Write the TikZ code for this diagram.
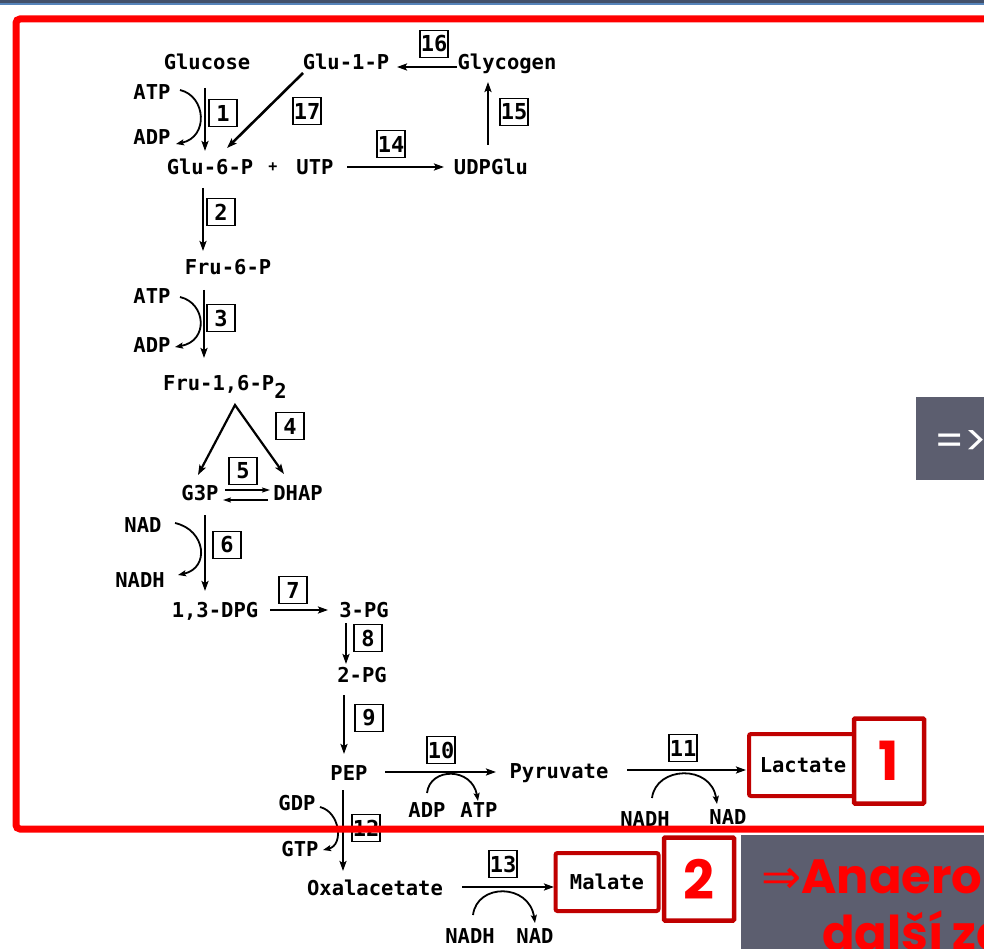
\documentclass[tikz,border=0pt]{standalone}
\usepackage{fontspec}
\usetikzlibrary{arrows.meta}
\newfontfamily\chemfont{DejaVu Sans Mono}
\newfontfamily\slidefont{Poppins}
\newfontfamily\arrowfont{DejaVu Sans}
\definecolor{framered}{RGB}{255,0,0}
\definecolor{darkred}{RGB}{192,0,0}
\definecolor{panelgrey}{RGB}{92,94,111}
\definecolor{bardark}{RGB}{66,80,106}
\definecolor{barblue}{RGB}{86,132,186}

\begin{document}
\begin{tikzpicture}[x=1pt,y=-1pt,
  lbl/.style={font=\chemfont\bfseries\fontsize{20.5}{24}\selectfont, inner sep=0pt, anchor=base},
  enz/.style={draw, line width=1.8pt, minimum width=28pt, minimum height=27pt, inner sep=0pt,
              font=\chemfont\bfseries\fontsize{22}{24}\selectfont},
  rxn/.style={line width=2pt, -{Stealth[length=10pt,width=7pt,inset=2pt]}},
  thin rxn/.style={line width=1.5pt, -{Stealth[length=8pt,width=5pt,inset=1.5pt]}},
  cof/.style={line width=1.8pt, -{Stealth[length=8pt,width=6pt,inset=1.5pt]}},
  prodbox/.style={draw=darkred, line width=4pt, rounded corners=2pt, fill=white, inner sep=0pt,
                  font=\chemfont\bfseries\fontsize{20.5}{24}\selectfont},
  numbox/.style={draw=darkred, line width=4.5pt, rounded corners=1pt, fill=white, inner sep=0pt,
                 text=framered, font=\slidefont\bfseries\fontsize{54}{60}\selectfont},
  slidetext/.style={anchor=base west, inner sep=0pt, text=framered,
                    font=\slidefont\bfseries\fontsize{48}{56}\selectfont},
]
\useasboundingbox (0,0) rectangle (984,949);
\clip (0,0) rectangle (984,949);
\fill[white] (0,0) rectangle (984,949);

% slide header bars
\fill[bardark] (0,0) rectangle (984,3);
\fill[barblue] (0,3) rectangle (984,5.5);

% ---------- metabolite and cofactor labels ----------
\node[lbl] (glucose)  at (207,70) {Glucose};
\node[lbl] (glu1p)    at (346,70) {Glu-1-P};
\node[lbl] (glycogen) at (507,70) {Glycogen};
\node[lbl] (atp1)     at (152,100) {ATP};
\node[lbl] (adp1)     at (152,145) {ADP};
\node[lbl] (glu6p)    at (210,175) {Glu-6-P};
\node[font=\chemfont\bfseries\fontsize{15}{16}\selectfont, inner sep=0pt] (plus) at (273,167) {+};
\node[lbl] (utp)      at (315,175) {UTP};
\node[lbl] (udpglu)   at (491,175) {UDPGlu};
\node[lbl] (fru6p)    at (228,275) {Fru-6-P};
\node[lbl] (atp3)     at (152,303) {ATP};
\node[lbl] (adp3)     at (152,352) {ADP};
\node[lbl, anchor=base west] (fbp) at (163,390) {Fru-1,6-P\raisebox{-8pt}{2}};
\node[lbl] (g3p)      at (200,500) {G3P};
\node[lbl] (dhap)     at (298,500) {DHAP};
\node[lbl] (nad6)     at (143,532) {NAD};
\node[lbl] (nadh6)    at (140,587) {NADH};
\node[lbl] (dpg)      at (215,617) {1,3-DPG};
\node[lbl] (pg3)      at (364,617) {3-PG};
\node[lbl] (pg2)      at (362,682) {2-PG};
\node[lbl] (pep)      at (349,780) {PEP};
\node[lbl] (adp10)    at (427,817) {ADP};
\node[lbl] (atp10)    at (479,817) {ATP};
\node[lbl] (pyruvate) at (559,778) {Pyruvate};
\node[lbl] (nadh11)   at (645,826) {NADH};
\node[lbl] (nad11)    at (728,824) {NAD};
\node[lbl] (gdp)      at (297,810) {GDP};
\node[lbl] (gtp)      at (300,856) {GTP};
\node[lbl] (oaa)      at (375,895) {Oxalacetate};
\node[lbl] (nadh13)   at (470,943) {NADH};
\node[lbl] (nad13)    at (535,943) {NAD};

% ---------- enzyme numbers ----------
\node[enz] (e16) at (434,44)  {16};
\node[enz] (e17) at (307,111) {17};
\node[enz] (e1)  at (223,113) {1};
\node[enz] (e14) at (391,144) {14};
\node[enz] (e15) at (514,112) {15};
\node[enz] (e2)  at (221,212) {2};
\node[enz] (e3)  at (221,318) {3};
\node[enz] (e4)  at (290,426) {4};
\node[enz] (e5)  at (243,471) {5};
\node[enz] (e6)  at (227,545) {6};
\node[enz] (e7)  at (293,590) {7};
\node[enz] (e8)  at (368,638) {8};
\node[enz] (e9)  at (369,718) {9};
\node[enz] (e10) at (441,750) {10};
\node[enz] (e11) at (683,748) {11};
\node[enz] (e12) at (366,828) {12};
\node[enz] (e13) at (503,864) {13};

% ---------- arrow end points ----------
\coordinate (r16s) at (457,67);  \coordinate (r16e) at (397,67);
\coordinate (r17s) at (303,73);  \coordinate (r17e) at (227,148);
\coordinate (r1s)  at (205,88);  \coordinate (r1e)  at (205,151);
\coordinate (r14s) at (347,167); \coordinate (r14e) at (444,167);
\coordinate (r15s) at (488,145); \coordinate (r15e) at (488,82);
\coordinate (r2s)  at (203,188); \coordinate (r2e)  at (203,251);
\coordinate (r3s)  at (204,290); \coordinate (r3e)  at (204,358);
\coordinate (apex) at (235,405);
\coordinate (r4l)  at (198,475); \coordinate (r4r)  at (284,474);
\coordinate (r5fs) at (225,490); \coordinate (r5fe) at (270,490);
\coordinate (r5bs) at (268,500); \coordinate (r5be) at (223,500);
\coordinate (r6s)  at (205,515); \coordinate (r6e)  at (205,591);
\coordinate (r7s)  at (270,610); \coordinate (r7e)  at (328,610);
\coordinate (r8s)  at (346,623); \coordinate (r8e)  at (346,664);
\coordinate (r9s)  at (344,695); \coordinate (r9e)  at (344,754);
\coordinate (r10s) at (385,772); \coordinate (r10e) at (496,772);
\coordinate (r11s) at (627,770); \coordinate (r11e) at (746,770);
\coordinate (r12s) at (343,790); \coordinate (r12e) at (343,871);
\coordinate (r13s) at (462,887); \coordinate (r13e) at (554,887);

\coordinate (c1s)  at (180,90);  \coordinate (c1e)  at (176,144);
\coordinate (c3s)  at (180,297); \coordinate (c3e)  at (175,347);
\coordinate (c6s)  at (175,523); \coordinate (c6e)  at (178,575);
\coordinate (c10s) at (427,793); \coordinate (c10e) at (478,801);
\coordinate (c11s) at (652,798); \coordinate (c11e) at (717,804);
\coordinate (c12s) at (320,807); \coordinate (c12e) at (323,850);
\coordinate (c13s) at (473,915); \coordinate (c13e) at (535,923);

% ---------- reaction arrows ----------
\draw[rxn] (r16s) -- (r16e);
\draw[rxn, line width=2.6pt] (r17s) -- (r17e);
\draw[rxn] (r1s) -- (r1e);
\draw[rxn] (r14s) -- (r14e);
\draw[rxn] (r15s) -- (r15e);
\draw[rxn] (r2s) -- (r2e);
\draw[rxn] (r3s) -- (r3e);
\draw[line width=2.2pt, {Stealth[length=10pt,width=7pt,inset=2pt]}-{Stealth[length=10pt,width=7pt,inset=2pt]}, line join=miter]
  (r4l) -- (apex) -- (r4r);
\draw[thin rxn] (r5fs) -- (r5fe);
\draw[thin rxn] (r5bs) -- (r5be);
\draw[rxn] (r6s) -- (r6e);
\draw[rxn] (r7s) -- (r7e);
\draw[rxn] (r8s) -- (r8e);
\draw[rxn] (r9s) -- (r9e);
\draw[rxn] (r10s) -- (r10e);
\draw[rxn] (r11s) -- (r11e);
\draw[rxn] (r12s) -- (r12e);
\draw[rxn] (r13s) -- (r13e);

% ---------- cofactor curves ----------
\draw[cof] (c1s) .. controls +(26,6) and +(33,-7) .. (c1e);
\draw[cof] (c3s) .. controls +(26,6) and +(34,-6) .. (c3e);
\draw[cof] (c6s) .. controls +(31,7) and +(32,-7) .. (c6e);
\draw[cof] (c12s) .. controls +(20,5) and +(21,-5) .. (c12e);
\draw[cof] (c10s) .. controls +(3,-26) and +(-6,-34) .. (c10e);
\draw[cof] (c11s) .. controls +(4,-32) and +(-6,-40) .. (c11e);
\draw[cof] (c13s) .. controls +(4,-32) and +(-6,-40) .. (c13e);

% ---------- slide overlays ----------
\draw[framered, line width=7pt, rounded corners=4pt] (16,19) rectangle (1010,829);

\fill[panelgrey] (916,397) rectangle (1000,480);
\node[anchor=west, inner sep=0pt, text=white, font=\slidefont\fontsize{42}{48}\selectfont] (hint) at (934,443) {=>};

\node[prodbox, minimum width=108pt, minimum height=62pt] (lactate) at (803,765) {Lactate};
\node[numbox, minimum width=70pt, minimum height=85pt] (n1) at (889,761) {1};

\node[prodbox, minimum width=103pt, minimum height=58pt] (malate) at (607,882) {Malate};
\node[numbox, minimum width=70pt, minimum height=83pt] (n2) at (699,879) {2};

\fill[panelgrey] (741,835) rectangle (1000,960);
\node[slidetext] (concl1) at (761,893)
  {{\arrowfont\mdseries ⇒}Anaerobní};
\node[slidetext] (concl2) at (822,950)
  {další\hspace{9pt}zdroj};
\end{tikzpicture}
\end{document}
